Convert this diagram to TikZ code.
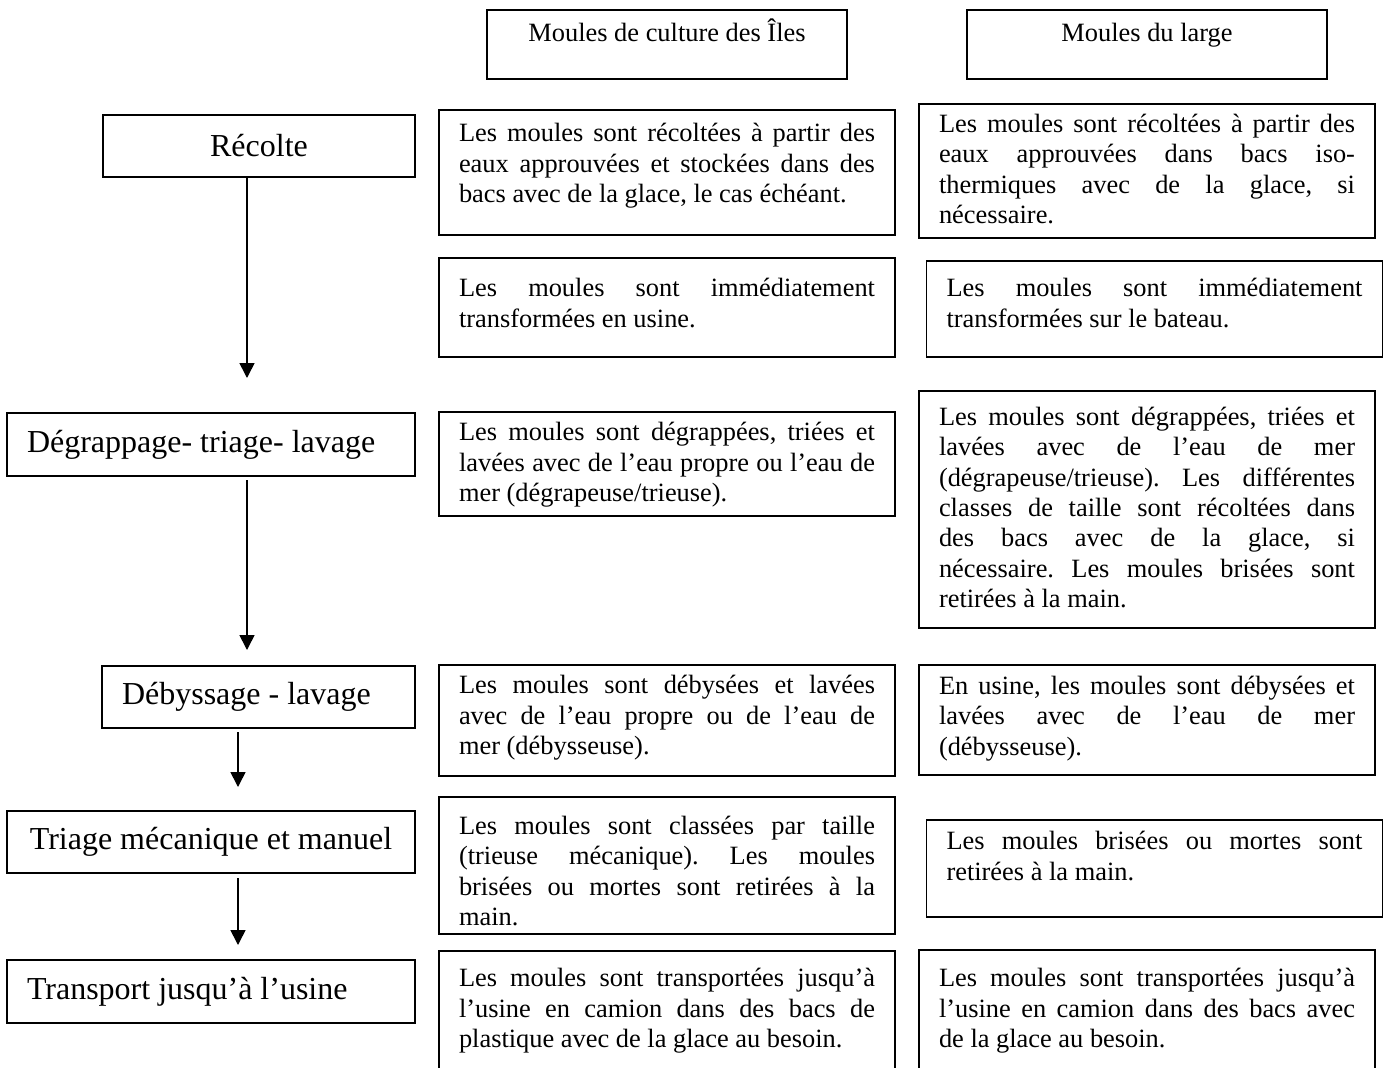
\documentclass[tikz,border=0pt]{standalone}
\usepackage{fontspec}
\setmainfont{Liberation Serif}
\usetikzlibrary{arrows.meta}
\tolerance=10000
\hbadness=10000
\hyphenpenalty=10000
\frenchspacing
\newcommand{\remonte}[1]{\par\kern#1pt}
\tikzset{
    cadre/.style={draw, line width=0.8pt, inner xsep=10pt, inner ysep=0pt, outer sep=0pt},
    etape/.style={cadre, font=\fontsize{16}{19}\selectfont, align=flush left},
    texte/.style={cadre, font=\fontsize{13.2}{15.2}\selectfont, text width=208pt, align=justify},
    entete/.style={cadre, font=\fontsize{13.2}{15.2}\selectfont, minimum width=180pt, minimum height=34.5pt, text height=11pt, text depth=13.6pt},
    fleche/.style={draw, line width=0.8pt, -{Triangle[width=7.5pt,length=7.5pt]}}
}
\begin{document}
\begin{tikzpicture}[x=0.5pt, y=-0.5pt]
    \path[use as bounding box, clip] (0,0) rectangle (1383,1067);
    \node[entete] (culture) at (667,44.5) {Moules de culture des Îles};
    \node[entete] (large) at (1147,44.5) {Moules du large};

    \node[etape, text width=136pt, align=flush center, minimum height=31pt] (recolte) at (259,146) {Récolte};
    \node[etape, text width=184pt, minimum height=31.5pt] (degrap) at (211,444.5) {Dégrappage- triage- lavage};
    \node[etape, text width=136.5pt, minimum height=31pt] (debyss) at (258.5,697) {Débyssage - lavage};
    \node[etape, text width=184pt, align=flush center, minimum height=31pt] (triage) at (211,842) {\mbox{Triage mécanique et manuel}};
    \node[etape, text width=184pt, minimum height=31.5pt] (transp) at (211,991.5) {Transport jusqu’à l’usine};

    \draw[fleche, shorten >=17.5pt] ([xshift=-6pt]recolte.south) -- ([xshift=-6pt]recolte.south |- degrap.north);
    \draw[fleche, shorten <=2pt, shorten >=8pt] ([xshift=18pt]degrap.south) -- ([xshift=18pt]degrap.south |- debyss.north);
    \draw[fleche, shorten <=2pt, shorten >=12pt] ([xshift=-10.25pt]debyss.south) -- ([xshift=-10.25pt]debyss.south |- triage.north);
    \draw[fleche, shorten <=2.5pt, shorten >=7.5pt] ([xshift=13.5pt]triage.south) -- ([xshift=13.5pt]triage.south |- transp.north);

    \node[texte, minimum height=62.5pt] (iles1) at (667,172.5) {Les moules sont récoltées à partir des\linebreak eaux approuvées et stockées dans des\linebreak bacs avec de la glace, le cas échéant.\remonte{6.5}};
    \node[texte, minimum height=49.5pt] (iles2) at (667,307.5) {Les moules sont immédiatement\linebreak transformées en usine.\remonte{4.5}};
    \node[texte, minimum height=52pt] (iles3) at (667,464) {Les moules sont dégrappées, triées et\linebreak lavées avec de l’eau propre ou l’eau de\linebreak mer (dégrapeuse/trieuse).\remonte{-1}};
    \node[texte, minimum height=55.5pt] (iles4) at (667,720.5) {Les moules sont débysées et lavées\linebreak avec de l’eau propre ou de l’eau de\linebreak mer (débysseuse).\remonte{2.5}};
    \node[texte, minimum height=68.5pt] (iles5) at (667,865.5) {Les moules sont classées par taille\linebreak (trieuse mécanique). Les moules\linebreak brisées ou mortes sont retirées à la\linebreak main.\remonte{-5.5}};
    \node[texte, minimum height=69.5pt] (iles6) at (667,1020.5) {Les moules sont transportées jusqu’à\linebreak l’usine en camion dans des bacs de\linebreak plastique avec de la glace au besoin.\remonte{9.5}};

    \node[texte, minimum height=67pt] (large1) at (1147,171) {Les moules sont récoltées à partir des\linebreak eaux approuvées dans bacs iso-\linebreak thermiques avec de la glace, si\linebreak nécessaire.\remonte{2}};
    \node[texte, minimum height=48pt] (large2) at (1154.5,309) {Les moules sont immédiatement\linebreak transformées sur le bateau.\remonte{6}};
    \node[texte, minimum height=118.5pt] (large3) at (1147,509.5) {Les moules sont dégrappées, triées et\linebreak lavées avec de l’eau de mer\linebreak (dégrapeuse/trieuse). Les différentes\linebreak classes de taille sont récoltées dans\linebreak des bacs avec de la glace, si\linebreak nécessaire. Les moules brisées sont\linebreak retirées à la main.\remonte{2}};
    \node[texte, minimum height=55pt] (large4) at (1147,720) {En usine, les moules sont débysées et\linebreak lavées avec de l’eau de mer\linebreak (débysseuse).\remonte{1.5}};
    \node[texte, minimum height=48.5pt] (large5) at (1154.5,868.5) {Les moules brisées ou mortes sont\linebreak retirées à la main.\remonte{12.5}};
    \node[texte, minimum height=70pt] (large6) at (1147,1020) {Les moules sont transportées jusqu’à\linebreak l’usine en camion dans des bacs avec\linebreak de la glace au besoin.\remonte{9}};
\end{tikzpicture}
\end{document}
